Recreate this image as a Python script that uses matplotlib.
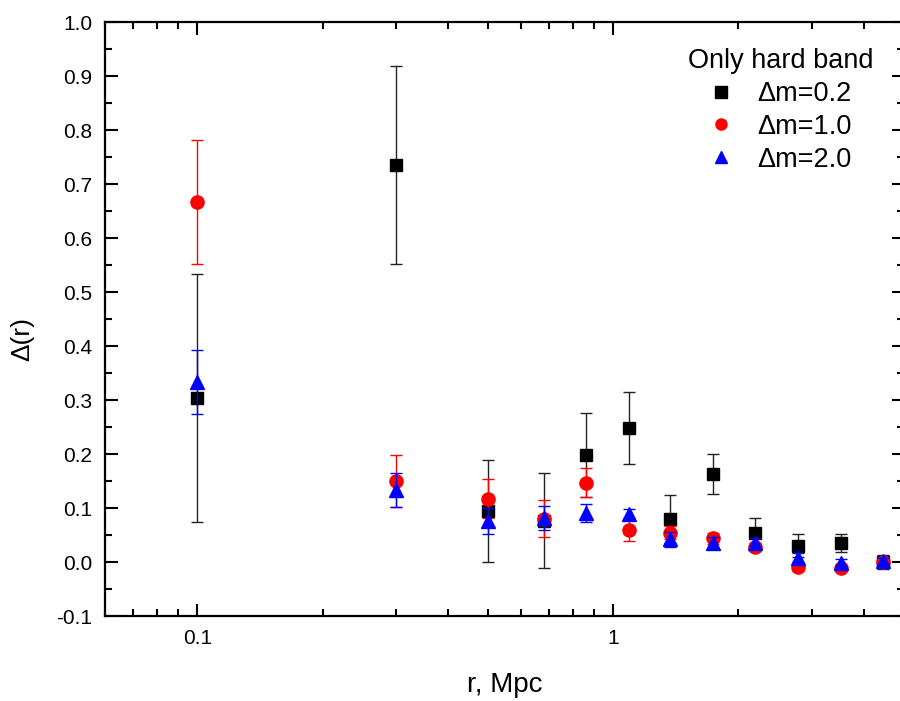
import matplotlib
matplotlib.use("Agg")
import matplotlib.pyplot as plt
from matplotlib.lines import Line2D
from matplotlib.ticker import MultipleLocator, LogLocator, NullFormatter, FixedLocator, FixedFormatter

plt.rcParams["font.family"] = ["Liberation Sans", "DejaVu Sans"]

# ---------- DATA ----------
r = [0.1, 0.3, 0.5, 0.68, 0.86, 1.09, 1.37, 1.74, 2.19, 2.78, 3.53, 4.46]

d02 = [0.304, 0.735, 0.094, 0.076, 0.198, 0.248, 0.080, 0.163, 0.054, 0.030, 0.035, 0.000]
e02 = [0.230, 0.184, 0.094, 0.088, 0.078, 0.067, 0.045, 0.037, 0.028, 0.021, 0.016, 0.013]

d10 = [0.667, 0.150, 0.117, 0.080, 0.147, 0.060, 0.054, 0.044, 0.028, -0.010, -0.011, 0.000]
e10 = [0.115, 0.048, 0.036, 0.034, 0.027, 0.021, 0.012, 0.010, 0.008, 0.006, 0.006, 0.008]

d20 = [0.333, 0.133, 0.076, 0.082, 0.091, 0.088, 0.042, 0.036, 0.036, 0.008, -0.001, 0.002]
e20 = [0.059, 0.031, 0.024, 0.022, 0.017, 0.011, 0.014, 0.011, 0.008, 0.008, 0.006, 0.006]

labels = ["\u0394m=0.2", "\u0394m=1.0", "\u0394m=2.0"]

# ---------- PLOT ----------
fig = plt.figure(figsize=(9.0, 7.01), dpi=100)
ax = fig.add_axes([105 / 900, 85 / 701, 799 / 900, 594 / 701])

series = [
    (d02, e02, "s", "black", "#222222", 8),
    (d10, e10, "o", "#ff0000", "#ff0000", 9.5),
    (d20, e20, "^", "#0000ff", "#0000ff", 9.5),
]
handles = []
for i, (d, e, mk, col, ecol, ms) in enumerate(series):
    ax.errorbar(r, d, yerr=e, fmt=mk, color=col, ms=ms, ecolor=ecol,
                elinewidth=1, capsize=4, capthick=1, zorder=3 + i)
    handles.append(Line2D([], [], ls="none", marker=mk, color=col, ms=8, label=labels[i]))

ax.set_xscale("log")
ax.set_xlim(0.06, 5)
ax.set_ylim(-0.1, 1.0)

ax.xaxis.set_major_locator(FixedLocator([0.1, 1]))
ax.xaxis.set_major_formatter(FixedFormatter(["0.1", "1"]))
ax.xaxis.set_minor_locator(LogLocator(base=10, subs=range(2, 10)))
ax.xaxis.set_minor_formatter(NullFormatter())

ax.set_yticks([i / 10 for i in range(-1, 11)])
ax.set_yticklabels(["%.1f" % (i / 10) for i in range(-1, 11)])
ax.yaxis.set_minor_locator(MultipleLocator(0.05))

ax.tick_params(which="both", direction="in", top=True, right=True, width=1.5, labelsize=15)
ax.tick_params(which="major", length=9)
ax.tick_params(which="minor", length=5)
ax.tick_params(axis="x", pad=9)
ax.tick_params(axis="y", pad=9)
for s in ax.spines.values():
    s.set_linewidth(1.6)

ax.set_xlabel("r, Mpc", fontsize=20, labelpad=18)
ax.set_ylabel("\u0394(r)", fontsize=19, labelpad=16)
ax.yaxis.label.set_y(0.466)

ax.legend(handles=handles, title="Only hard band", loc="upper right",
          bbox_to_anchor=(0.989, 0.993), frameon=False, fontsize=19.5,
          title_fontsize=19.5, handlelength=0.9, handletextpad=0.92,
          labelspacing=0.25, borderpad=0.62, borderaxespad=0.2)

fig.savefig("out.png", dpi=100)
